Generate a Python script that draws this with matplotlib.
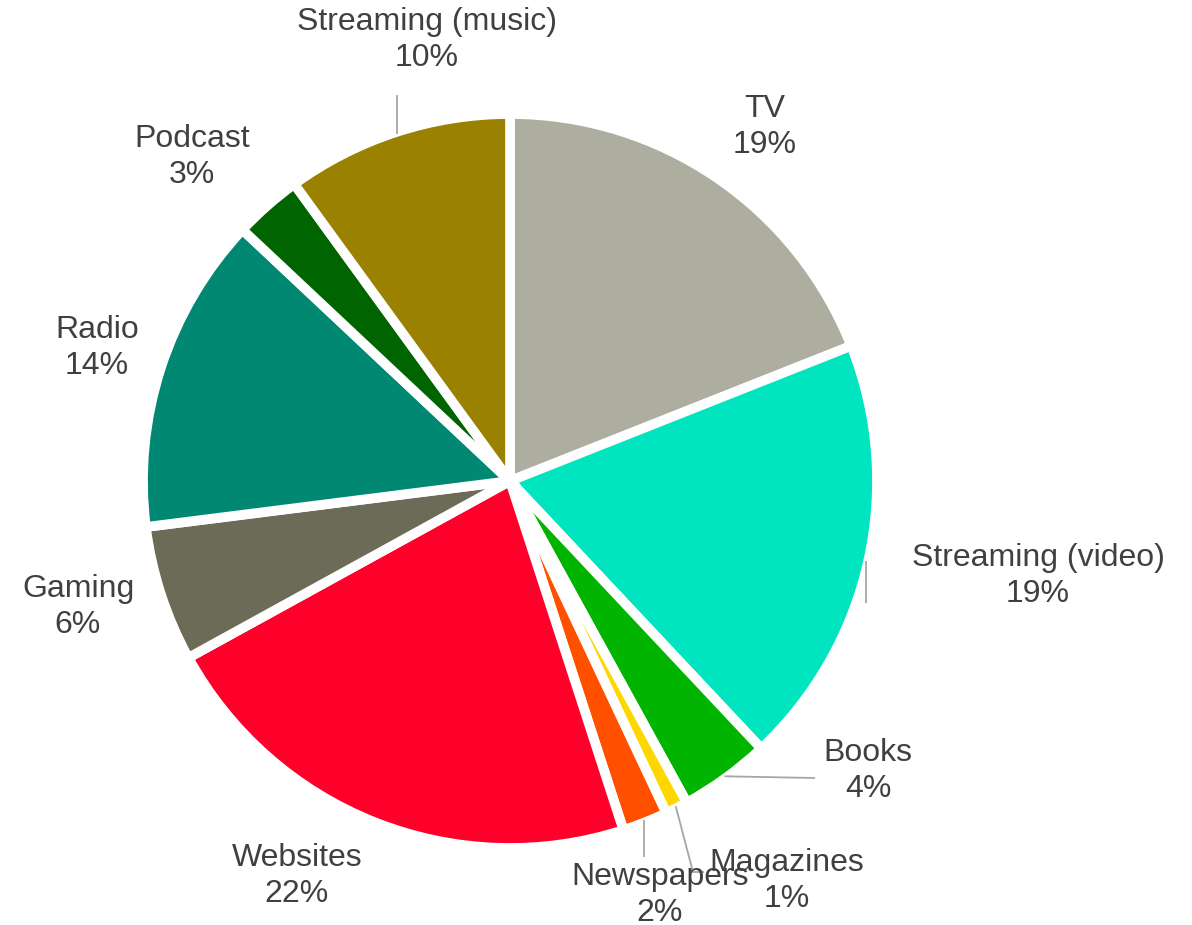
import numpy as np
import matplotlib.pyplot as plt

plt.rcParams['font.family'] = ['Liberation Sans', 'DejaVu Sans']

# Share of media time by channel, clockwise from 12 o'clock
channels = ['TV', 'Streaming (video)', 'Books', 'Magazines', 'Newspapers',
            'Websites', 'Gaming', 'Radio', 'Podcast', 'Streaming (music)']
shares = [19, 19, 4, 1, 2, 22, 6, 14, 3, 10]
colors = ['#ADAE9F', '#00E5BF', '#00B400', '#FFD700', '#FF5000',
          '#FF002B', '#6B6B57', '#008872', '#006400', '#9A8100']

# Label block centres (pixel coords, y measured from the top)
label_pos = {
    'TV': (765, 127),
    'Streaming (video)': (1038, 576),
    'Books': (868, 771),
    'Magazines': (787, 881),
    'Newspapers': (660, 895),
    'Websites': (297, 876),
    'Gaming': (78, 607),
    'Radio': (97, 348),
    'Podcast': (192, 157),
    'Streaming (music)': (427, 40),
}
# Leader line end points for the labels that sit away from their slice
leaders = {
    'Streaming (music)': [('v', 95)],
    'Streaming (video)': [('v', 603)],
    'Books': [(815, 778)],
    'Magazines': [(693, 872), (704, 872)],
    'Newspapers': [('v', 857)],
}

W, H = 1192, 925
cx, cy, R = 510, 481, 367

fig = plt.figure(figsize=(W / 100, H / 100), dpi=100)
ax = fig.add_axes([0, 0, 1, 1])

wedges, _ = ax.pie(shares, colors=colors, startangle=90, counterclock=False,
                   center=(cx, H - cy), radius=R,
                   wedgeprops=dict(edgecolor='white', linewidth=7))
ax.set_xlim(0, W)
ax.set_ylim(0, H)
ax.set_aspect('equal')
ax.axis('off')

total = sum(shares)
cum = np.cumsum([0] + shares)
for i, name in enumerate(channels):
    pct = shares[i] / total * 100
    lx, ly = label_pos[name]
    ax.text(lx, H - ly, f'{name}\n{pct:.0f}%', ha='center', va='center',
            fontsize=23, color='#404040', linespacing=1.3)
    if name in leaders:
        mid = np.deg2rad(90 - (cum[i] + shares[i] / 2) / total * 360)
        sx = cx + (R - 2) * np.cos(mid)
        sy = cy - (R - 2) * np.sin(mid)
        xs, ys = [sx], [sy]
        for p in leaders[name]:
            if p[0] == 'v':
                xs.append(sx)
                ys.append(p[1])
            else:
                xs.append(p[0])
                ys.append(p[1])
        ax.plot(xs, [H - y for y in ys], color='#A6A6A6', lw=1.3,
                solid_capstyle='butt', zorder=3)

fig.savefig('out.png', dpi=100, facecolor='white')
